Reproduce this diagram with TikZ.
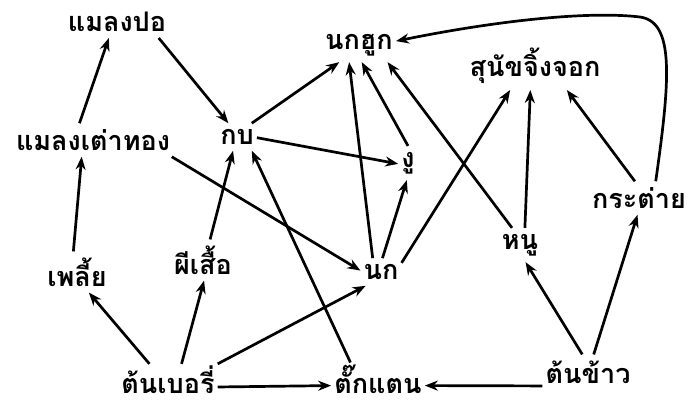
\documentclass[tikz,border=0pt]{standalone}
\usepackage{fontspec}
\setmainfont[Script=Thai]{Loma}
\usetikzlibrary{arrows.meta}
\begin{document}
\begin{tikzpicture}[x=1pt,y=-1pt,
  sp/.style={font=\fontsize{27}{30}\selectfont\bfseries, inner xsep=3pt, inner ysep=6pt, anchor=center},
  low/.style={inner ysep=2pt},
  eat/.style={line width=2.7pt, -{Stealth[length=13pt,width=10pt]}}]
\useasboundingbox (0,0) rectangle (689,406);
\node[sp] (A) at (117,22) {แมลงปอ};
\node[sp] (B) at (93,140) {แมลงเต่าทอง};
\node[sp] (C) at (77,272) {เพลี้ย};
\node[sp] (D) at (203,260) {ผีเสื้อ};
\node[sp,low] (E) at (168,380) {ต้นเบอรี่};
\node[sp] (F) at (237,137) {กบ};
\node[sp] (G) at (359,45) {นกฮูก};
\node[sp] (H) at (408,163) {งู};
\node[sp] (I) at (381,272) {นก};
\node[sp,low] (J) at (378,379) {ตั๊กแตน};
\node[sp] (K) at (535,66) {สุนัขจิ้งจอก};
\node[sp] (L) at (639,198) {กระต่าย};
\node[sp] (M) at (520,245) {หนู};
\node[sp] (N) at (588,372) {ต้นข้าว};
\draw[eat] (B.129) -- (A.243);
\draw[eat] (A.-21) -- (F.122);
\draw[eat] (C.100) -- (B.236);
\draw[eat] (E.139) -- (C.-60);
\draw[eat] (E.50) -- (D.-87);
\draw[eat] (E.18) -- (I.222);
\draw[eat] (D.71) -- (F.254);
\draw[eat] (E.-8) -- (J.188);
\draw[eat] (N.197) -- (J.-8);
\draw[eat] (J.149) -- (F.-43);
\draw[eat] (B.-12) -- (I.176);
\draw[eat] (F.43) -- (G.221);
\draw[eat] (F.-2) -- (H.185);
\draw[eat] (I.121) -- (G.240);
\draw[eat] (I.84) -- (H.-94);
\draw[eat] (I.24) -- (K.224);
\draw[eat] (H.90) -- (G.-81);
\draw[eat] (M.115) -- (G.-31);
\draw[eat] (M.74) -- (K.259);
\draw[eat] (L.104) -- (K.-37);
\draw[eat] (N.108) -- (M.-72);
\draw[eat] (N.72) -- (L.-95);
\draw[eat] (L.45) .. controls (670,80) and (675,22) .. (640,17) .. controls (590,11) and (500,20) .. (G.6);
\end{tikzpicture}
\end{document}
